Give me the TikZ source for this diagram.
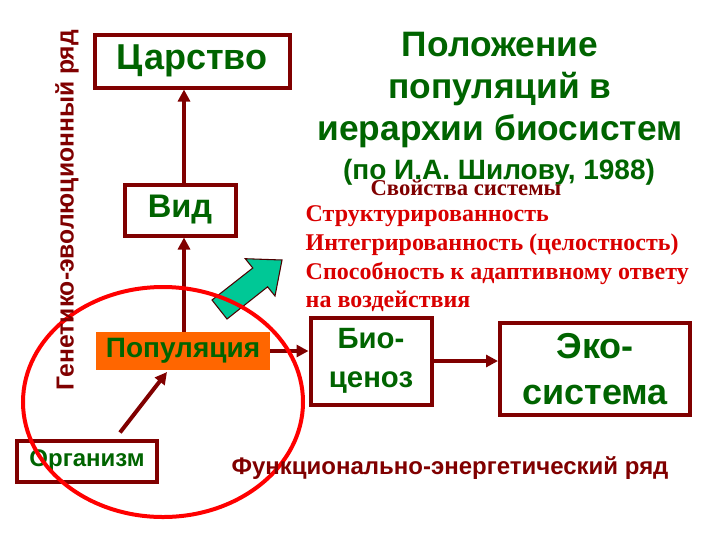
\documentclass[tikz,border=0pt]{standalone}
\usepackage{fontspec}
\setmainfont{Liberation Serif}
\newfontfamily\ars{Liberation Sans}
\usetikzlibrary{arrows.meta}
\definecolor{dred}{RGB}{128,0,0}
\definecolor{dgreen}{RGB}{0,100,0}
\definecolor{orng}{RGB}{255,102,0}
\definecolor{teal2}{RGB}{0,200,150}
\begin{document}
\begin{tikzpicture}[x=0.75pt,y=-0.75pt,
  box/.style={draw=dred,line width=3pt,inner sep=0,font=\ars\bfseries,text=dgreen,align=center},
  conn/.style={dred,line width=3pt,-{Triangle[length=9pt,width=9pt]}},
  prop/.style={anchor=west,text=red!85!black,font=\fontsize{18}{20}\selectfont\bfseries}]
\useasboundingbox (0,0) rectangle (720,540);
\node[box,minimum width=195*0.75pt,minimum height=53*0.75pt,font=\ars\bfseries\fontsize{27}{30}\selectfont] (tsar) at (192,61) {Царство};
\node[box,minimum width=111*0.75pt,minimum height=51*0.75pt,font=\ars\bfseries\fontsize{24.5}{28}\selectfont] (vid) at (180,210) {Вид};
\node[fill=orng,inner sep=0,minimum width=174*0.75pt,minimum height=38*0.75pt,text=dgreen,font=\ars\bfseries\fontsize{21}{24}\selectfont] (pop) at (183,351) {Популяция};
\node[box,minimum width=140*0.75pt,minimum height=41*0.75pt,font=\ars\bfseries\fontsize{18}{20}\selectfont] (org) at (87,461) {Организм};
\node[box,minimum width=121*0.75pt,minimum height=87*0.75pt,font=\ars\bfseries\fontsize{22}{29}\selectfont] (bio) at (371,361) {Био-\\ценоз};
\node[box,minimum width=190*0.75pt,minimum height=92*0.75pt,font=\ars\bfseries\fontsize{27}{34}\selectfont] (eko) at (595,369) {Эко-\\система};
\draw[conn] (vid.north -| 184,0) -- (tsar.south -| 184,0);
\draw[conn] (pop.north -| 184,0) -- (vid.south -| 184,0);
\draw[conn] (org.north) ++(33,-6) -- (167,372);
\draw[conn] (pop.east) -- (bio.west |- pop.east);
\draw[conn] (bio.east) -- (eko.west |- bio.east);
\filldraw[draw=dred!60!black,fill=teal2,line width=0.8pt] (227,319) -- (267.6,286.8) -- (275,296) -- (282,260) -- (245.3,258.7) -- (252.8,268) -- (212,300) -- cycle;
\draw[red,line width=3pt] (163,402) ellipse [x radius=140,y radius=115];
\node[text=dgreen,font=\ars\bfseries\fontsize{26.5}{31.5}\selectfont,align=center] (title) at (500,90) {Положение\\популяций в\\иерархии биосистем};
\node[text=dgreen,font=\ars\bfseries\fontsize{21}{24}\selectfont] (auth) at (499,172) {(по И.А. Шилову, 1988)};
\node[text=dred,font=\fontsize{17}{20}\selectfont\bfseries] (sv) at (466,188) {Свойства системы};
\node[prop] (p1) at (301,216) {Структурированность};
\node[prop] (p2) at (301,245) {Интегрированность (целостность)};
\node[prop] (p3) at (301,273) {Способность к адаптивному ответу};
\node[prop] (p4) at (301,301) {на воздействия};
\node[rotate=90,text=dred,font=\ars\bfseries\fontsize{18.5}{20}\selectfont] (gen) at (67,210) {Генетико-эволюционный ряд};
\node[text=dred,font=\ars\bfseries\fontsize{18}{20}\selectfont] (fun) at (450,468) {Функционально-энергетический ряд};
\end{tikzpicture}
\end{document}
